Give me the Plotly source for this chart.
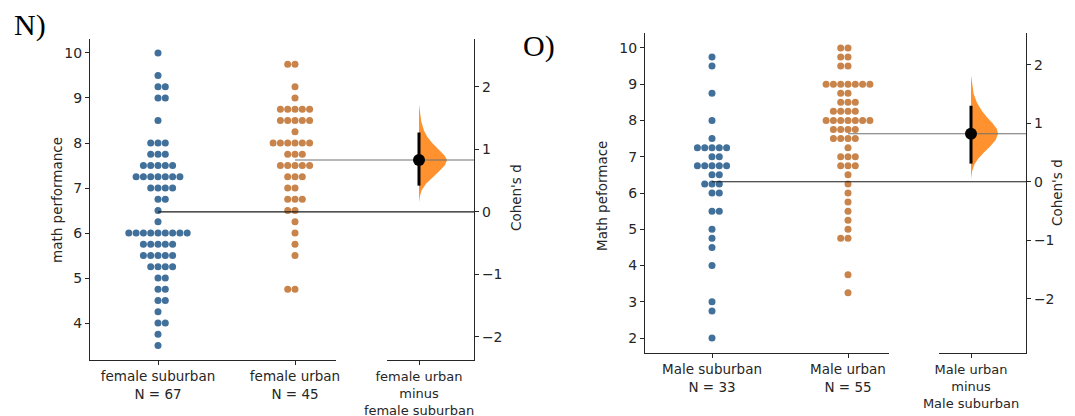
import numpy as np
import plotly.graph_objects as go

# ---------------- data ----------------
fs_vals = [10.0, 9.5, 9.25, 9.0, 8.5, 8.0, 7.75, 7.5, 7.25, 7.0, 6.75, 6.5, 6.25, 6.0,
           5.75, 5.5, 5.25, 5.0, 4.75, 4.5, 4.25, 4.0, 3.75, 3.5]
fs_cnts = [1, 1, 2, 2, 1, 3, 3, 5, 7, 4, 2, 1, 1, 9, 5, 5, 4, 2, 2, 2, 1, 2, 1, 1]
fu_vals = [9.75, 9.25, 9.0, 8.75, 8.5, 8.25, 8.0, 7.75, 7.5, 7.25, 7.0, 6.75, 6.5, 6.25,
           6.0, 5.75, 5.5, 4.75]
fu_cnts = [2, 1, 1, 5, 5, 1, 6, 3, 5, 3, 2, 3, 2, 1, 1, 1, 1, 2]
ms_vals = [9.75, 9.5, 8.75, 8.0, 7.5, 7.25, 7.0, 6.75, 6.5, 6.25, 6.0, 5.5, 5.0, 4.75,
           4.5, 4.0, 3.0, 2.75, 2.0]
ms_cnts = [1, 1, 1, 1, 1, 5, 2, 5, 2, 3, 2, 2, 1, 1, 1, 1, 1, 1, 1]
mu_vals = [10.0, 9.75, 9.5, 9.0, 8.75, 8.5, 8.25, 8.0, 7.75, 7.5, 7.25, 7.0, 6.75, 6.5,
           6.25, 6.0, 5.75, 5.5, 5.25, 5.0, 4.75, 3.75, 3.25]
mu_cnts = [2, 2, 2, 7, 2, 3, 4, 7, 4, 4, 1, 3, 3, 1, 1, 1, 1, 1, 1, 1, 2, 1, 1]

n_labels = ["female suburban<br>N = 67", "female urban<br>N = 45"]
n_delta_label = ["female urban<br>minus<br>female suburban"]
o_labels = ["Male suburban<br>N = 33", "Male urban<br>N = 55"]
o_delta_label = ["Male urban<br>minus<br>Male suburban"]

n_d = 0.83
n_ci = [0.42, 1.27]
o_d = 0.82
o_ci = [0.31, 1.30]

# bootstrap half-violin outlines (Cohen's d, relative half-width)
n_viol_d = [1.72, 1.60, 1.45, 1.30, 1.20, 1.10, 1.00, 0.90, 0.83, 0.75, 0.65, 0.55, 0.45, 0.35, 0.25, 0.15]
n_viol_w = [0.0, 0.03, 0.08, 0.18, 0.30, 0.48, 0.70, 0.92, 1.0, 0.93, 0.72, 0.48, 0.25, 0.10, 0.03, 0.0]
o_viol_d = [1.82, 1.65, 1.50, 1.35, 1.20, 1.10, 1.00, 0.90, 0.82, 0.72, 0.60, 0.50, 0.40, 0.30, 0.18, 0.05]
o_viol_w = [0.0, 0.04, 0.10, 0.22, 0.42, 0.60, 0.80, 0.96, 1.0, 0.92, 0.70, 0.48, 0.28, 0.13, 0.04, 0.0]

# ---------------- styling / geometry ----------------
W, H = 1075, 416
OFF = 8  # page body margin in the browser
BLUE = "#41709A"
BROWN = "#C8844A"
VIOL = "#FF922E"
AX = "#262626"
FONT = "DejaVu Sans"


def px_x(a):
    return (a - OFF) / W


def px_y(a):
    return 1 - (a - OFF) / H


def xdom(a, b):
    return [px_x(a), px_x(b)]


def ydom(top, bottom):
    return [px_y(bottom), px_y(top)]


def to_paper(dom, rng, v):
    return dom[0] + (v - rng[0]) / (rng[1] - rng[0]) * (dom[1] - dom[0])


def swarm(vals, cnts, pos, dx, first):
    xs, ys = [], []
    for v, c in zip(vals, cnts):
        offs = [0]
        k = 1
        while len(offs) < c:
            offs.append(first * k)
            if len(offs) < c:
                offs.append(-first * k)
            k += 1
        for o in offs:
            xs.append(pos + o * dx)
            ys.append(v)
    return xs, ys


fig = go.Figure()
layout_axes = {}
shapes = []

panels = [
    dict(key=("x", "y", "x2", "y2"), ax=("xaxis", "yaxis", "xaxis2", "yaxis2"),
         main_px=(90, 336), cats_px=(158, 295), ytop=39, ybot=360, yr=(3.18, 10.31),
         dpx=(387, 474), dc=419, vw=28,
         g0=(fs_vals, fs_cnts), g1=(fu_vals, fu_cnts), d=n_d, ci=n_ci,
         vd=n_viol_d, vwid=n_viol_w, labels=n_labels, dlabel=n_delta_label,
         ydtick=1),
    dict(key=("x3", "y3", "x4", "y4"), ax=("xaxis3", "yaxis3", "xaxis4", "yaxis4"),
         main_px=(645, 889), cats_px=(712, 848), ytop=33, ybot=353, yr=(1.59, 10.41),
         dpx=(939, 1026), dc=971, vw=27,
         g0=(ms_vals, ms_cnts), g1=(mu_vals, mu_cnts), d=o_d, ci=o_ci,
         vd=o_viol_d, vwid=o_viol_w, labels=o_labels, dlabel=o_delta_label,
         ydtick=1),
]

for P in panels:
    xk, yk, xk2, yk2 = P["key"]
    xa, ya, xa2, ya2 = P["ax"]
    p0, p1 = P["main_px"]
    c0, c1 = P["cats_px"]
    u = c1 - c0
    xr = [-(c0 - p0) / u, 1 + (p1 - c1) / u]
    xd = xdom(p0, p1)
    yd = ydom(P["ytop"], P["ybot"])
    yr = list(P["yr"])
    dx = 7.3 / u

    # swarms
    for gi, (g, col, first) in enumerate([(P["g0"], BLUE, 1), (P["g1"], BROWN, -1)]):
        xs, ys = swarm(g[0], g[1], gi, dx, first)
        fig.add_trace(go.Scatter(x=xs, y=ys, mode="markers", xaxis=xk, yaxis=yk,
                                 marker=dict(color=col, size=7, line=dict(width=0)),
                                 showlegend=False, hoverinfo="y"))

    # means
    m0 = float(np.average(P["g0"][0], weights=P["g0"][1]))
    m1 = float(np.average(P["g1"][0], weights=P["g1"][1]))
    scale = (m1 - m0) / P["d"]
    dyr = [(yr[0] - m0) / scale, (yr[1] - m0) / scale]

    dp0, dp1 = P["dpx"]
    dxr = [-(P["dc"] - dp0) / 100, (dp1 - P["dc"]) / 100]
    dxd = xdom(dp0, dp1)

    # half violin
    vw = P["vw"] / 100
    vx = [0] + [w * vw for w in P["vwid"]] + [0]
    vy = [P["vd"][0]] + list(P["vd"]) + [P["vd"][-1]]
    fig.add_trace(go.Scatter(x=vx, y=vy, mode="lines", fill="toself", fillcolor=VIOL,
                             line=dict(width=0, color=VIOL), xaxis=xk2, yaxis=yk2,
                             showlegend=False, hoverinfo="skip"))

    # mean reference lines
    xs_paper0 = to_paper(xd, xr, 0)
    xs_paper1 = to_paper(xd, xr, 1)
    shapes.append(dict(type="line", xref="paper", yref=yk, x0=xs_paper0, x1=dxd[1],
                       y0=m0, y1=m0, line=dict(color="#1a1a1a", width=1.1), layer="above"))
    shapes.append(dict(type="line", xref="paper", yref=yk, x0=xs_paper1, x1=dxd[0],
                       y0=m1, y1=m1, line=dict(color="#707070", width=1.1), layer="above"))
    fig.add_trace(go.Scatter(x=[dxr[0], dxr[1]], y=[P["d"], P["d"]], mode="lines",
                             line=dict(color="#707070", width=1.1), xaxis=xk2, yaxis=yk2,
                             showlegend=False, hoverinfo="skip", cliponaxis=False))

    # CI + point estimate
    fig.add_trace(go.Scatter(x=[0, 0], y=P["ci"], mode="lines", line=dict(color="black", width=3),
                             xaxis=xk2, yaxis=yk2, showlegend=False, hoverinfo="skip"))
    fig.add_trace(go.Scatter(x=[0], y=[P["d"]], mode="markers", marker=dict(color="black", size=12),
                             xaxis=xk2, yaxis=yk2, showlegend=False, hoverinfo="y"))

    common = dict(showline=True, linecolor=AX, linewidth=1.2, ticks="outside", ticklen=4,
                  tickwidth=1.1, tickcolor=AX, showgrid=False, zeroline=False,
                  fixedrange=True, automargin=False)
    layout_axes[xa] = dict(domain=xd, range=xr, anchor=yk, tickvals=[0, 1],
                           ticktext=P["labels"],
                           tickfont=dict(family=FONT, size=13.5, color="#262626"), **common)
    layout_axes[ya] = dict(domain=yd, range=yr, anchor=xk, dtick=P["ydtick"], tick0=0,
                           tickfont=dict(family=FONT, size=14, color="#262626"), **common)
    layout_axes[xa2] = dict(domain=dxd, range=dxr, anchor=yk2, tickvals=[0],
                            ticktext=P["dlabel"],
                            tickfont=dict(family=FONT, size=13, color="#262626"), **common)
    layout_axes[ya2] = dict(domain=yd, range=dyr, anchor=xk2, side="right", dtick=1, tick0=0,
                            tickfont=dict(family=FONT, size=14, color="#262626"), **common)

TF = dict(family=FONT, size=13.5, color="#262626")
annots = [
    dict(text="N)", x=px_x(12), y=px_y(25), xanchor="left", yanchor="middle",
         font=dict(family="Liberation Serif", size=30, color="black")),
    dict(text="O)", x=px_x(521), y=px_y(46), xanchor="left", yanchor="middle",
         font=dict(family="Liberation Serif", size=30, color="black")),
    dict(text="math performance", x=px_x(47), y=px_y(200), textangle=-90, font=TF),
    dict(text="Cohen's d", x=px_x(516), y=px_y(198), textangle=-90, font=TF),
    dict(text="Math peformace", x=px_x(602), y=px_y(196), textangle=-90, font=TF),
    dict(text="Cohen's d", x=px_x(1067), y=px_y(193), textangle=-90, font=TF),
]
for a in annots:
    a.update(xref="paper", yref="paper", showarrow=False)

fig.update_layout(width=W, height=H, margin=dict(l=0, r=0, t=0, b=0, autoexpand=False),
                  paper_bgcolor="white", plot_bgcolor="rgba(0,0,0,0)",
                  showlegend=False, shapes=shapes, annotations=annots,
                  font=dict(family=FONT), **layout_axes)

fig.write_html("out.html")
